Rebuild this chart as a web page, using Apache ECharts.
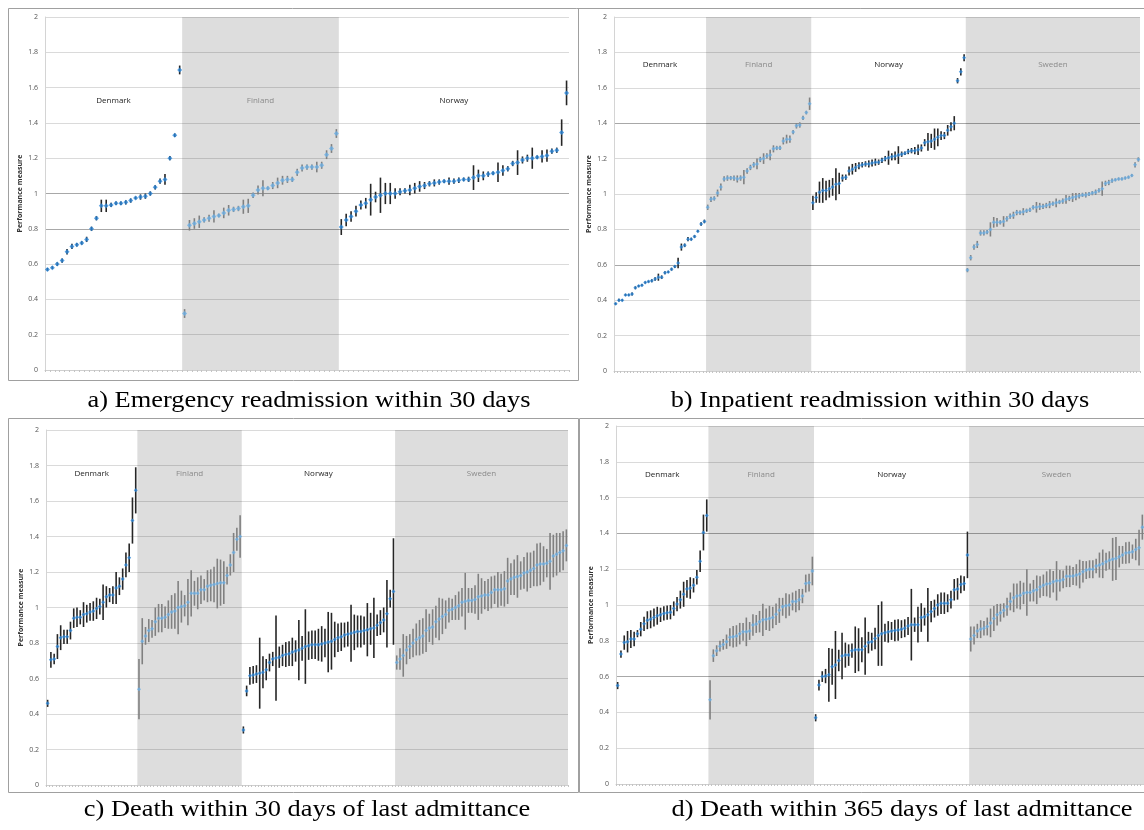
<!DOCTYPE html>
<html>
<head>
<meta charset="utf-8">
<script src="https://cdn.jsdelivr.net/npm/echarts@6/dist/echarts.min.js"></script>
<style>
  html, body { margin: 0; padding: 0; background: #fff; }
  #main { width: 1144px; height: 830px; }
</style>
</head>
<body>
<div id="main"></div>
<script>
// countries, in the order they sit on the x axis
var countries = ['Denmark', 'Finland', 'Norway', 'Sweden'];
var yTicks = [0, 0.2, 0.4, 0.6, 0.8, 1, 1.2, 1.4, 1.6, 1.8, 2];

// a) Emergency readmission within 30 days
var aDenVal = [0.57,0.58,0.60,0.62,0.67,0.70,0.71,0.72,0.74,0.80,0.86,0.93,0.93,0.935,0.945,0.945,0.95,0.96,0.975,0.98,0.985,1.00,1.035,1.07,1.08,1.20,1.33,1.70];
var aDenErr = [0.008,0.008,0.01,0.012,0.015,0.015,0.01,0.01,0.015,0.012,0.012,0.035,0.035,0.012,0.01,0.01,0.012,0.012,0.008,0.015,0.015,0.012,0.012,0.015,0.03,0.012,0.01,0.025];
var aFinVal = [0.32,0.82,0.83,0.84,0.85,0.86,0.87,0.875,0.89,0.905,0.91,0.915,0.925,0.93,0.99,1.02,1.03,1.03,1.045,1.06,1.075,1.08,1.08,1.12,1.145,1.15,1.15,1.15,1.16,1.22,1.255,1.34];
var aFinErr = [0.025,0.03,0.03,0.035,0.015,0.02,0.035,0.01,0.03,0.03,0.015,0.015,0.04,0.04,0.015,0.025,0.045,0.01,0.02,0.03,0.025,0.02,0.015,0.02,0.02,0.015,0.015,0.03,0.02,0.025,0.025,0.025];
var aNorVal = [0.81,0.85,0.87,0.90,0.935,0.945,0.965,0.98,0.99,1.00,1.00,1.00,1.01,1.015,1.02,1.03,1.04,1.045,1.055,1.06,1.065,1.07,1.07,1.07,1.075,1.08,1.08,1.09,1.10,1.10,1.11,1.115,1.12,1.13,1.14,1.17,1.175,1.19,1.20,1.20,1.205,1.21,1.215,1.24,1.245,1.345,1.57];
var aNorErr = [0.045,0.035,0.03,0.03,0.025,0.03,0.09,0.03,0.1,0.06,0.06,0.03,0.02,0.015,0.03,0.03,0.03,0.02,0.015,0.02,0.015,0.01,0.02,0.015,0.015,0.01,0.015,0.07,0.035,0.025,0.015,0.01,0.055,0.03,0.015,0.015,0.07,0.02,0.02,0.06,0.01,0.035,0.035,0.015,0.015,0.075,0.07];

// b) Inpatient readmission within 30 days
var bDenVal = [0.38,0.40,0.40,0.43,0.43,0.435,0.47,0.48,0.485,0.50,0.505,0.51,0.52,0.53,0.53,0.555,0.56,0.575,0.59,0.61,0.70,0.71,0.745,0.745,0.76,0.79,0.83,0.845];
var bDenErr = [0.006,0.008,0.006,0.006,0.006,0.008,0.008,0.006,0.006,0.006,0.006,0.008,0.01,0.02,0.01,0.008,0.006,0.008,0.008,0.03,0.02,0.01,0.012,0.008,0.008,0.006,0.01,0.01];
var bFinVal = [0.925,0.97,0.975,1.005,1.04,1.085,1.09,1.09,1.09,1.085,1.09,1.095,1.13,1.15,1.165,1.17,1.195,1.20,1.215,1.22,1.255,1.26,1.26,1.30,1.31,1.31,1.35,1.385,1.39,1.43,1.46,1.51];
var bFinErr = [0.015,0.015,0.012,0.02,0.02,0.015,0.015,0.012,0.015,0.02,0.015,0.04,0.015,0.015,0.015,0.03,0.015,0.03,0.015,0.03,0.02,0.012,0.012,0.02,0.025,0.02,0.012,0.015,0.015,0.012,0.01,0.035];
var bNorVal = [0.95,0.98,1.01,1.02,1.02,1.03,1.04,1.055,1.06,1.09,1.095,1.13,1.14,1.15,1.16,1.165,1.17,1.17,1.175,1.18,1.18,1.19,1.20,1.205,1.21,1.215,1.22,1.225,1.23,1.24,1.245,1.245,1.25,1.26,1.29,1.295,1.30,1.31,1.32,1.33,1.33,1.36,1.38,1.40,1.64,1.69,1.77];
var bNorErr = [0.04,0.03,0.06,0.07,0.055,0.05,0.05,0.09,0.06,0.02,0.015,0.025,0.03,0.025,0.02,0.015,0.015,0.02,0.02,0.02,0.015,0.015,0.015,0.04,0.02,0.025,0.05,0.015,0.01,0.015,0.015,0.02,0.03,0.02,0.02,0.05,0.04,0.06,0.05,0.025,0.02,0.03,0.025,0.04,0.015,0.02,0.02];
var bSweVal = [0.57,0.64,0.70,0.715,0.78,0.78,0.785,0.80,0.84,0.84,0.84,0.845,0.86,0.875,0.88,0.895,0.895,0.90,0.905,0.91,0.925,0.925,0.93,0.93,0.935,0.94,0.945,0.95,0.955,0.96,0.97,0.975,0.98,0.985,0.99,0.995,0.995,1.00,1.005,1.01,1.02,1.03,1.06,1.065,1.075,1.08,1.085,1.085,1.09,1.095,1.105,1.165,1.195];
var bSweErr = [0.012,0.015,0.015,0.02,0.015,0.015,0.012,0.04,0.03,0.025,0.012,0.03,0.015,0.015,0.02,0.015,0.012,0.02,0.012,0.012,0.012,0.03,0.02,0.015,0.015,0.02,0.012,0.025,0.012,0.015,0.025,0.015,0.025,0.02,0.015,0.012,0.015,0.012,0.012,0.015,0.012,0.04,0.015,0.015,0.012,0.008,0.008,0.008,0.008,0.008,0.008,0.015,0.012];

// c) Death within 30 days of last admittance
var cDenVal = [0.46,0.705,0.71,0.78,0.83,0.835,0.835,0.87,0.94,0.945,0.945,0.96,0.965,0.975,0.98,0.995,1.005,1.03,1.06,1.07,1.07,1.11,1.12,1.16,1.24,1.28,1.49,1.66];
var cDenErr = [0.02,0.045,0.03,0.07,0.07,0.04,0.04,0.05,0.055,0.055,0.04,0.07,0.05,0.05,0.055,0.06,0.045,0.1,0.06,0.04,0.05,0.09,0.05,0.06,0.07,0.08,0.13,0.13];
var cFinVal = [0.54,0.81,0.84,0.87,0.88,0.92,0.94,0.94,0.945,0.96,0.975,0.98,1.00,1.005,1.01,1.03,1.08,1.08,1.08,1.10,1.10,1.12,1.125,1.13,1.135,1.14,1.14,1.18,1.24,1.31,1.385,1.40];
var cFinErr = [0.17,0.13,0.05,0.065,0.05,0.08,0.08,0.08,0.06,0.08,0.095,0.1,0.15,0.09,0.06,0.13,0.13,0.07,0.09,0.08,0.06,0.09,0.09,0.1,0.14,0.13,0.12,0.05,0.06,0.11,0.065,0.12];
var cNorVal = [0.31,0.53,0.615,0.62,0.625,0.63,0.635,0.65,0.69,0.71,0.715,0.72,0.73,0.735,0.74,0.75,0.755,0.76,0.77,0.78,0.785,0.79,0.79,0.79,0.795,0.80,0.805,0.81,0.82,0.83,0.835,0.845,0.85,0.855,0.86,0.865,0.865,0.87,0.875,0.88,0.885,0.90,0.915,0.93,0.965,1.05,1.09];
var cNorErr = [0.02,0.03,0.05,0.05,0.05,0.2,0.09,0.06,0.05,0.04,0.24,0.06,0.06,0.07,0.07,0.08,0.06,0.17,0.07,0.21,0.08,0.08,0.08,0.09,0.1,0.08,0.17,0.16,0.1,0.08,0.08,0.07,0.07,0.16,0.1,0.09,0.09,0.08,0.15,0.09,0.17,0.06,0.07,0.07,0.19,0.05,0.3];
var cSweVal = [0.69,0.71,0.73,0.76,0.78,0.80,0.82,0.83,0.84,0.87,0.885,0.89,0.92,0.935,0.95,0.96,0.985,0.99,1.00,1.01,1.03,1.035,1.04,1.04,1.045,1.06,1.065,1.07,1.07,1.085,1.10,1.10,1.10,1.105,1.15,1.16,1.17,1.175,1.18,1.195,1.20,1.21,1.22,1.24,1.245,1.245,1.25,1.26,1.29,1.30,1.31,1.32,1.35];
var cSweErr = [0.04,0.06,0.12,0.08,0.07,0.08,0.09,0.1,0.1,0.12,0.08,0.1,0.09,0.12,0.1,0.08,0.07,0.06,0.07,0.08,0.08,0.16,0.07,0.07,0.08,0.13,0.1,0.08,0.09,0.09,0.08,0.1,0.09,0.1,0.13,0.09,0.1,0.12,0.08,0.09,0.11,0.1,0.1,0.12,0.12,0.1,0.08,0.16,0.12,0.12,0.11,0.11,0.09];

// d) Death within 365 days of last admittance
var dDenVal = [0.55,0.726,0.79,0.795,0.81,0.81,0.84,0.865,0.895,0.915,0.92,0.93,0.94,0.945,0.953,0.957,0.96,0.98,1.005,1.03,1.06,1.09,1.095,1.11,1.155,1.245,1.405,1.50];
var dDenErr = [0.02,0.02,0.04,0.06,0.05,0.04,0.02,0.04,0.04,0.05,0.05,0.05,0.05,0.04,0.04,0.04,0.04,0.04,0.04,0.05,0.07,0.05,0.06,0.04,0.04,0.06,0.1,0.09];
var dFinVal = [0.47,0.717,0.745,0.77,0.78,0.795,0.82,0.823,0.827,0.84,0.85,0.85,0.855,0.888,0.894,0.907,0.917,0.92,0.925,0.93,0.948,0.97,0.99,0.996,1.0,1.02,1.02,1.03,1.05,1.12,1.125,1.19];
var dFinErr = [0.11,0.035,0.03,0.03,0.03,0.04,0.05,0.06,0.06,0.06,0.05,0.08,0.05,0.06,0.05,0.06,0.09,0.06,0.07,0.06,0.06,0.07,0.05,0.07,0.06,0.05,0.06,0.06,0.04,0.05,0.05,0.08];
var dNorVal = [0.37,0.553,0.60,0.603,0.61,0.655,0.665,0.69,0.715,0.72,0.72,0.745,0.75,0.75,0.75,0.77,0.79,0.795,0.813,0.83,0.84,0.845,0.85,0.855,0.857,0.86,0.865,0.87,0.883,0.89,0.89,0.89,0.93,0.935,0.945,0.963,0.98,1.0,1.01,1.01,1.01,1.03,1.085,1.09,1.115,1.12,1.28];
var dNorErr = [0.02,0.03,0.03,0.04,0.15,0.1,0.19,0.06,0.13,0.07,0.06,0.04,0.13,0.12,0.07,0.16,0.06,0.05,0.06,0.17,0.18,0.05,0.06,0.05,0.06,0.06,0.05,0.05,0.05,0.2,0.04,0.1,0.08,0.05,0.15,0.06,0.05,0.06,0.06,0.06,0.05,0.05,0.06,0.06,0.05,0.04,0.13];
var dSweVal = [0.81,0.83,0.855,0.865,0.87,0.88,0.90,0.925,0.945,0.957,0.97,0.99,1.02,1.04,1.05,1.055,1.065,1.07,1.07,1.08,1.085,1.10,1.11,1.118,1.12,1.13,1.135,1.135,1.143,1.16,1.16,1.162,1.168,1.173,1.186,1.195,1.2,1.2,1.218,1.223,1.23,1.242,1.25,1.255,1.26,1.27,1.28,1.29,1.293,1.298,1.31,1.32,1.435];
var dSweErr = [0.07,0.05,0.04,0.05,0.04,0.05,0.08,0.07,0.06,0.05,0.04,0.05,0.05,0.08,0.07,0.08,0.06,0.13,0.05,0.06,0.08,0.06,0.06,0.07,0.08,0.06,0.11,0.06,0.05,0.06,0.06,0.05,0.06,0.08,0.06,0.05,0.05,0.05,0.04,0.07,0.08,0.05,0.05,0.12,0.12,0.06,0.05,0.06,0.06,0.04,0.06,0.1,0.07];

var captions = [
    'a) Emergency readmission within 30 days',
    'b) Inpatient readmission within 30 days',
    'c) Death within 30 days of last admittance',
    'd) Death within 365 days of last admittance'
];

var LIGHT = '#dadada', DARK = '#a8a8a8';

// layout of the four panels (pixels)
var panels = [
    {vals: [aDenVal, aFinVal, aNorVal], errs: [aDenErr, aFinErr, aNorErr],
     left: 45, top: 17, width: 524, height: 353, labelDist: 80, dark: [0.8, 1], sym: 5,
     capX: 309, capY: 401},
    {vals: [bDenVal, bFinVal, bNorVal, bSweVal], errs: [bDenErr, bFinErr, bNorErr, bSweErr],
     left: 614, top: 17, width: 526, height: 354, labelDist: 44, dark: [0.6, 1.4], sym: 4,
     capX: 880, capY: 401},
    {vals: [cDenVal, cFinVal, cNorVal, cSweVal], errs: [cDenErr, cFinErr, cNorErr, cSweErr],
     left: 46, top: 430, width: 522, height: 355, labelDist: 40, dark: [], sym: 4,
     capX: 307, capY: 810},
    {vals: [dDenVal, dFinVal, dNorVal, dSweVal], errs: [dDenErr, dFinErr, dNorErr, dSweErr],
     left: 616, top: 426, width: 528, height: 358, labelDist: 45, dark: [0.6, 1.4], sym: 4,
     capX: 902, capY: 810}
];

var chart = echarts.init(document.getElementById('main'));

var grids = [], xAxes = [], yAxes = [], series = [];

panels.forEach(function (p, pi) {
    grids.push({left: p.left, top: p.top, width: p.width, height: p.height});

    var n = 0;
    p.vals.forEach(function (v) { n += v.length; });

    xAxes.push({
        type: 'value', gridIndex: pi, min: 0, max: n, interval: 1,
        axisLabel: {show: false},
        splitLine: {show: false},
        axisLine: {lineStyle: {color: '#cfcfcf'}},
        axisTick: {length: 2, lineStyle: {color: '#c4c4c4'}}
    });

    // darker lines at a few of the gridlines, like the picture
    var lineColors = yTicks.map(function (t) {
        return p.dark.indexOf(t) >= 0 ? DARK : LIGHT;
    });

    yAxes.push({
        type: 'value', gridIndex: pi, min: 0, max: 2, interval: 0.2,
        name: 'Performance measure', nameLocation: 'middle', nameGap: 22,
        nameTextStyle: {fontSize: 7, fontWeight: 'bold', color: '#333', fontFamily: 'Open Sans'},
        axisLine: {show: true, lineStyle: {color: '#d4d4d4'}},
        axisTick: {show: false},
        axisLabel: {fontSize: 7, color: '#555', margin: 7, fontFamily: 'Open Sans'},
        splitLine: {lineStyle: {color: lineColors, width: 1}}
    });

    var start = 0;
    p.vals.forEach(function (vals, ci) {
        var errs = p.errs[ci];
        var shaded = ci % 2 === 1;
        var barColor = shaded ? '#808080' : '#262626';
        var dotColor = shaded ? '#6aaee4' : '#2a86d8';

        // country band + name
        series.push({
            type: 'scatter', xAxisIndex: pi, yAxisIndex: pi, data: [], z: 1,
            silent: true,
            markArea: {
                silent: true,
                itemStyle: {color: shaded ? 'rgba(0,0,0,0.135)' : 'rgba(0,0,0,0)'},
                label: {
                    show: true, position: 'insideTop', distance: p.labelDist,
                    fontSize: 8, fontFamily: 'Open Sans',
                    color: shaded ? '#8a8a8a' : '#222'
                },
                data: [[{name: countries[ci], xAxis: start}, {xAxis: start + vals.length}]]
            }
        });

        // confidence intervals
        series.push({
            type: 'custom', xAxisIndex: pi, yAxisIndex: pi, z: 3, silent: true,
            encode: {x: 0, y: [1, 2]},
            data: vals.map(function (v, i) { return [start + i + 0.5, v - errs[i], v + errs[i]]; }),
            renderItem: function (params, api) {
                var lo = api.coord([api.value(0), api.value(1)]);
                var hi = api.coord([api.value(0), api.value(2)]);
                return {
                    type: 'line',
                    shape: {x1: lo[0], y1: lo[1], x2: hi[0], y2: hi[1]},
                    style: {stroke: barColor, lineWidth: 1.6}
                };
            }
        });

        // point estimates
        series.push({
            type: 'scatter', xAxisIndex: pi, yAxisIndex: pi, z: 4, silent: true,
            symbol: 'diamond', symbolSize: p.sym,
            itemStyle: {color: dotColor},
            data: vals.map(function (v, i) { return [start + i + 0.5, v]; })
        });

        start += vals.length;
    });
});

var frame = {stroke: '#a0a0a0', fill: null, lineWidth: 1};
var graphics = [
    {type: 'polyline', silent: true, shape: {points: [[8.5, 380.5], [8.5, 8.5], [1144, 8.5]]}, style: frame},
    {type: 'polyline', silent: true, shape: {points: [[578.5, 8.5], [578.5, 380.5], [8.5, 380.5]]}, style: frame},
    {type: 'rect', silent: true, shape: {x: 8.5, y: 418.5, width: 570, height: 374}, style: frame},
    {type: 'polyline', silent: true, shape: {points: [[1144, 418.5], [579.5, 418.5], [579.5, 792.5], [1144, 792.5]]}, style: frame}
];
panels.forEach(function (p, pi) {
    graphics.push({
        type: 'text', silent: true, x: p.capX, y: p.capY, scaleX: 1.1,
        style: {
            text: captions[pi], fill: '#000',
            font: '24px "Liberation Serif"',
            align: 'center', verticalAlign: 'middle'
        }
    });
});

var option = {
    animation: false,
    backgroundColor: '#fff',
    grid: grids,
    xAxis: xAxes,
    yAxis: yAxes,
    series: series,
    graphic: graphics
};

chart.setOption(option);
</script>
</body>
</html>
